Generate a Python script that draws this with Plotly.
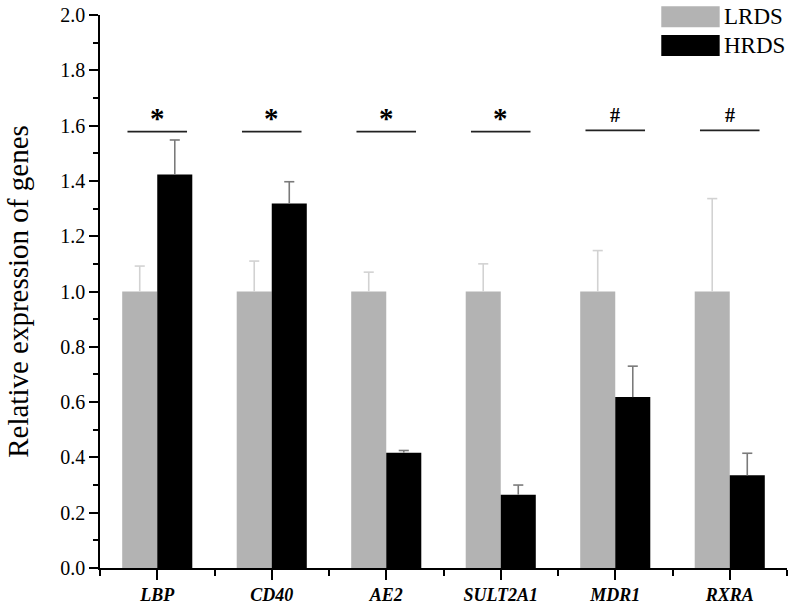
import plotly.graph_objects as go

genes = ["LBP", "CD40", "AE2", "SULT2A1", "MDR1", "RXRA"]
lrds_mean = [1.0, 1.0, 1.0, 1.0, 1.0, 1.0]
lrds_err = [0.092, 0.11, 0.07, 0.10, 0.148, 0.336]
hrds_mean = [1.423, 1.318, 0.417, 0.265, 0.618, 0.335]
hrds_err = [0.125, 0.079, 0.008, 0.035, 0.112, 0.08]
sig_marks = ["*", "*", "*", "*", "#", "#"]
sig_level = [1.578, 1.578, 1.578, 1.578, 1.583, 1.583]
y_ticks = [0.0, 0.2, 0.4, 0.6, 0.8, 1.0, 1.2, 1.4, 1.6, 1.8, 2.0]

xs = list(range(len(genes)))
FONT = "Liberation Serif"
BARGAP = 0.388
BAR_W = (1 - BARGAP) / 2
CAP = 0.044  # half-width of error-bar caps (x units)


def err_trace(centers, means, errs, color):
    xx, yy = [], []
    for c, m, e in zip(centers, means, errs):
        xx += [c, c, None, c - CAP, c + CAP, None]
        yy += [m, m + e, None, m + e, m + e, None]
    return go.Scatter(x=xx, y=yy, mode="lines", line=dict(color=color, width=1.6),
                      hoverinfo="skip", showlegend=False)


fig = go.Figure()
fig.add_trace(go.Bar(x=xs, y=lrds_mean, name="LRDS", marker_color="#b3b3b3",
                     marker_line_width=0))
fig.add_trace(go.Bar(x=xs, y=hrds_mean, name="HRDS", marker_color="#000000",
                     marker_line_width=0))
fig.add_trace(err_trace([x - BAR_W / 2 for x in xs], lrds_mean, lrds_err, "#d2d2d2"))
fig.add_trace(err_trace([x + BAR_W / 2 for x in xs], hrds_mean, hrds_err, "#7a7a7a"))

for i, (m, lvl) in enumerate(zip(sig_marks, sig_level)):
    fig.add_shape(type="line", xref="x", yref="y", x0=i - 0.26, x1=i + 0.26,
                  y0=lvl, y1=lvl, line=dict(color="#222222", width=1.8))
    fig.add_annotation(x=i, y=lvl, xref="x", yref="y", text="<b>%s</b>" % m, showarrow=False,
                       yanchor="bottom", yshift=-4 if m == "*" else 2,
                       font=dict(family=FONT, size=29 if m == "*" else 20, color="black"))

# custom legend
legend_items = [("LRDS", "#b3b3b3"), ("HRDS", "#000000")]
for k, (name, col) in enumerate(legend_items):
    top = 1.016 - k * 0.052
    fig.add_shape(type="rect", xref="paper", yref="paper", x0=0.817, x1=0.902,
                  y0=top - 0.038, y1=top, fillcolor=col, line=dict(width=0))
    fig.add_annotation(xref="paper", yref="paper", x=0.905, y=top - 0.019, text=name,
                       showarrow=False, xanchor="left", yanchor="middle",
                       font=dict(family=FONT, size=23, color="black"))

fig.update_layout(
    width=791, height=609,
    margin=dict(l=100, r=4, t=12, b=40),
    paper_bgcolor="white", plot_bgcolor="white",
    barmode="group", bargap=BARGAP, bargroupgap=0,
    showlegend=False,
    font=dict(family=FONT, color="black"),
)
fig.update_xaxes(
    range=[-0.5, 5.5], tickmode="array", tickvals=xs,
    ticktext=["<b><i>%s</i></b>" % g for g in genes],
    tickfont=dict(family=FONT, size=18, color="black"),
    showline=True, linecolor="black", linewidth=1.5,
    ticks="outside", ticklen=10, tickwidth=1.5, tickcolor="black",
    minor=dict(tickvals=[i + 0.5 for i in range(-1, 6)], ticks="outside",
               ticklen=6, tickwidth=1.5, tickcolor="black"),
    showgrid=False, zeroline=False,
)
fig.update_yaxes(
    range=[0, 2.0], tickmode="array", tickvals=y_ticks,
    ticktext=["%.1f" % v for v in y_ticks],
    tickfont=dict(family=FONT, size=20, color="black"),
    showline=True, linecolor="black", linewidth=1.5,
    ticks="outside", ticklen=9, tickwidth=1.5, tickcolor="black",
    minor=dict(dtick=0.1, ticks="outside", ticklen=5, tickwidth=1.5, tickcolor="black"),
    showgrid=False, zeroline=False,
    title=dict(text="Relative expression of genes", font=dict(family=FONT, size=29, color="black"),
               standoff=23),
)

fig.write_html("out.html", config={"displayModeBar": False},
               post_script="document.body.style.margin='0';document.body.style.overflow='hidden';")
